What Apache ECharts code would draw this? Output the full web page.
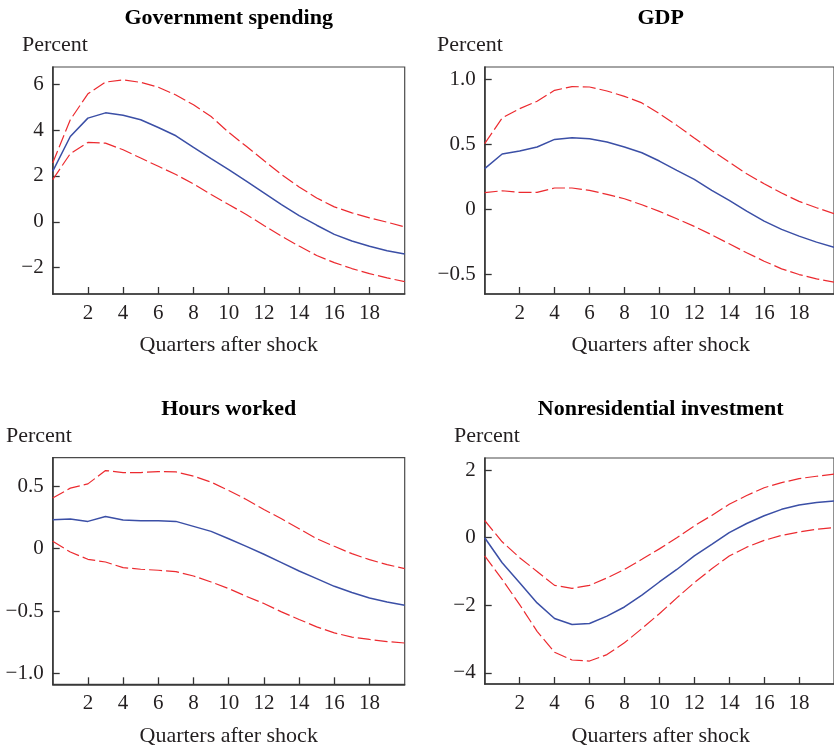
<!DOCTYPE html>
<html>
<head>
<meta charset="utf-8">
<script src="https://cdn.jsdelivr.net/npm/echarts@6/dist/echarts.min.js"></script>
<style>
html,body{margin:0;padding:0;background:#fff;}
#chart{width:834px;height:749px;}
</style>
</head>
<body>
<div id="chart"></div>
<script>
const quarters = [0,1,2,3,4,5,6,7,8,9,10,11,12,13,14,15,16,17,18,19,20];

const panelTitles = ['Government spending', 'GDP', 'Hours worked', 'Nonresidential investment'];
const yAxisTitle = 'Percent';
const xAxisTitle = 'Quarters after shock';

const xTickValues = [2,4,6,8,10,12,14,16,18];
const xTickLabels = ['2','4','6','8','10','12','14','16','18'];

// Government spending
const gsMid   = [2.2,3.72,4.52,4.75,4.65,4.45,4.11,3.75,3.24,2.75,2.27,1.77,1.26,0.75,0.27,-0.15,-0.55,-0.84,-1.07,-1.26,-1.41];
const gsUpper = [2.56,4.45,5.58,6.09,6.19,6.08,5.87,5.53,5.1,4.59,3.9,3.29,2.67,2.06,1.52,1.04,0.65,0.39,0.17,-0.02,-0.22];
const gsLower = [1.84,2.97,3.46,3.43,3.14,2.78,2.42,2.06,1.65,1.19,0.75,0.32,-0.16,-0.63,-1.06,-1.47,-1.78,-2.04,-2.26,-2.45,-2.61];
const gsTickValues = [-2,0,2,4,6];
const gsTickLabels = ['\u22122','0','2','4','6'];

// GDP
const gdpMid   = [0.314,0.427,0.45,0.481,0.54,0.553,0.545,0.52,0.481,0.437,0.373,0.301,0.232,0.147,0.069,-0.013,-0.09,-0.154,-0.206,-0.252,-0.291];
const gdpUpper = [0.507,0.705,0.777,0.834,0.918,0.947,0.944,0.913,0.872,0.821,0.738,0.648,0.551,0.455,0.365,0.275,0.198,0.126,0.062,0.013,-0.033];
const gdpLower = [0.129,0.144,0.131,0.131,0.165,0.165,0.147,0.116,0.082,0.036,-0.015,-0.072,-0.131,-0.196,-0.265,-0.334,-0.399,-0.458,-0.502,-0.535,-0.561];
const gdpTickValues = [-0.5,0,0.5,1.0];
const gdpTickLabels = ['\u22120.5','0','0.5','1.0'];

// Hours worked
const hwMid   = [0.232,0.238,0.219,0.259,0.23,0.224,0.224,0.219,0.179,0.139,0.08,0.019,-0.045,-0.112,-0.179,-0.24,-0.302,-0.352,-0.395,-0.427,-0.454];
const hwUpper = [0.406,0.486,0.52,0.627,0.611,0.611,0.619,0.616,0.582,0.534,0.467,0.395,0.315,0.24,0.16,0.08,0.019,-0.04,-0.088,-0.128,-0.16];
const hwLower = [0.059,-0.027,-0.085,-0.107,-0.152,-0.165,-0.173,-0.184,-0.219,-0.267,-0.32,-0.382,-0.44,-0.507,-0.568,-0.627,-0.675,-0.71,-0.728,-0.745,-0.757];
const hwTickValues = [-1.0,-0.5,0,0.5];
const hwTickLabels = ['\u22121.0','\u22120.5','0','0.5'];

// Nonresidential investment
const niMid   = [0,-0.74,-1.33,-1.93,-2.39,-2.57,-2.54,-2.32,-2.05,-1.7,-1.31,-0.94,-0.54,-0.2,0.15,0.42,0.65,0.84,0.97,1.04,1.09];
const niUpper = [0.51,-0.12,-0.59,-1.0,-1.41,-1.5,-1.41,-1.19,-0.94,-0.64,-0.33,0,0.35,0.66,0.99,1.25,1.48,1.63,1.75,1.82,1.88];
const niLower = [-0.54,-1.23,-1.98,-2.77,-3.39,-3.62,-3.65,-3.46,-3.11,-2.69,-2.25,-1.78,-1.33,-0.92,-0.54,-0.28,-0.08,0.07,0.17,0.25,0.3];
const niTickValues = [-4,-2,0,2];
const niTickLabels = ['\u22124','\u22122','0','2'];

const FONT = 'Liberation Serif';
const TXT = '#231f20';
const BLUE = '#3b4fa6';
const RED = '#ec2a2f';

const panels = [
  {mid: gsMid, up: gsUpper, lo: gsLower, tv: gsTickValues, tl: gsTickLabels, min: -3.15, max: 6.75,
   left: 52.7, top: 67, width: 352, height: 227},
  {mid: gdpMid, up: gdpUpper, lo: gdpLower, tv: gdpTickValues, tl: gdpTickLabels, min: -0.652, max: 1.098,
   left: 484.7, top: 67, width: 352, height: 227},
  {mid: hwMid, up: hwUpper, lo: hwLower, tv: hwTickValues, tl: hwTickLabels, min: -1.088, max: 0.73,
   left: 52.7, top: 457.7, width: 352, height: 226.6},
  {mid: niMid, up: niUpper, lo: niLower, tv: niTickValues, tl: niTickLabels, min: -4.33, max: 2.36,
   left: 484.7, top: 458, width: 352, height: 226}
];

const grid = [], xAxis = [], yAxis = [], series = [], graphicEls = [];
const titleY = [18.5, 18.5, 409, 409];
const percentPos = [[22, 45], [437, 45], [6, 436.5], [454, 436.5]];
const xTitleY = [345, 345, 736.5, 736.5];

panels.forEach((p, i) => {
  grid.push({left: p.left, top: p.top, width: p.width, height: p.height,
    show: true, borderColor: '#4a4a4a', borderWidth: 1.2, backgroundColor: 'transparent'});
  xAxis.push({
    type: 'value', gridIndex: i, min: 0, max: 20,
    axisLine: {show: true, onZero: false, lineStyle: {color: '#333', width: 1.5}},
    axisTick: {show: true, inside: true, length: 7, customValues: xTickValues, lineStyle: {color: '#333', width: 1.3}},
    axisLabel: {show: true, margin: 9, customValues: xTickValues, fontFamily: FONT, fontSize: 21, color: TXT,
      formatter: v => { const k = xTickValues.indexOf(v); return k >= 0 ? xTickLabels[k] : ''; }},
    splitLine: {show: false}
  });
  yAxis.push({
    type: 'value', gridIndex: i, min: p.min, max: p.max,
    axisLine: {show: true, onZero: false, lineStyle: {color: '#333', width: 1.5}},
    axisTick: {show: true, inside: true, length: 7, customValues: p.tv, lineStyle: {color: '#333', width: 1.3}},
    axisLabel: {show: true, margin: 9, customValues: p.tv, fontFamily: FONT, fontSize: 21, color: TXT,
      formatter: v => { let k = -1; p.tv.forEach((t, j) => { if (Math.abs(t - v) < 1e-9) k = j; }); return k >= 0 ? p.tl[k] : ''; }},
    splitLine: {show: false}
  });
  const mk = (arr) => quarters.map((q, j) => [q, arr[j]]);
  const base = {type: 'line', xAxisIndex: i, yAxisIndex: i, symbol: 'none', smooth: false, silent: true, animation: false};
  series.push(Object.assign({}, base, {data: mk(p.up), lineStyle: {color: RED, width: 1.2, type: [13, 4]}}));
  series.push(Object.assign({}, base, {data: mk(p.lo), lineStyle: {color: RED, width: 1.2, type: [13, 4]}}));
  series.push(Object.assign({}, base, {data: mk(p.mid), lineStyle: {color: BLUE, width: 1.5, type: 'solid'}}));

  const cx = p.left + p.width / 2;
  graphicEls.push({type: 'text', x: cx, y: titleY[i], style: {text: panelTitles[i], fontFamily: FONT, fontWeight: 'bold',
    fontSize: 22, fill: '#000', textAlign: 'center', textVerticalAlign: 'middle'}});
  graphicEls.push({type: 'text', x: percentPos[i][0], y: percentPos[i][1], style: {text: yAxisTitle, fontFamily: FONT,
    fontSize: 22, fill: TXT, textAlign: 'left', textVerticalAlign: 'middle'}});
  graphicEls.push({type: 'text', x: cx, y: xTitleY[i], style: {text: xAxisTitle, fontFamily: FONT,
    fontSize: 22, fill: TXT, textAlign: 'center', textVerticalAlign: 'middle'}});
});

const chart = echarts.init(document.getElementById('chart'), null, {renderer: 'canvas'});
chart.setOption({
  animation: false,
  backgroundColor: '#fff',
  grid, xAxis, yAxis, series,
  graphic: {elements: graphicEls}
});
</script>
</body>
</html>
